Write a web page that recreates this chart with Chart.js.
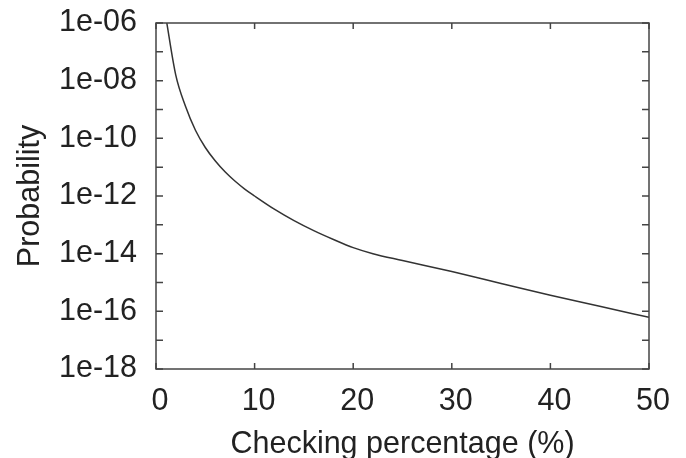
<!DOCTYPE html>
<html>
<head>
<meta charset="utf-8">
<script src="https://cdn.jsdelivr.net/npm/chart.js@4.4.1/dist/chart.umd.min.js"></script>
<style>
  html, body { margin: 0; padding: 0; background: #fff; }
  #wrap { width: 686px; height: 458px; }
</style>
</head>
<body>
<div id="wrap"><canvas id="main-chart" width="686" height="458"></canvas></div>
<script>
// checking percentage (%) and probability
const percent = [1, 2, 3, 4, 5, 6, 7, 8, 9, 10, 12, 14, 16, 18, 20, 22, 25, 30, 35, 40, 45, 50];
const probability = [1.58e-6, 1.58e-8, 1.26e-9, 1.9e-10, 4.8e-11, 1.66e-11, 6.9e-12, 3.3e-12, 1.74e-12, 1e-12,
  3.5e-13, 1.4e-13, 6.3e-14, 3.1e-14, 1.62e-14, 1e-14, 5.8e-15, 2.4e-15, 9.3e-16, 3.6e-16, 1.5e-16, 6.2e-17];

const xTicks = [0, 10, 20, 30, 40, 50];
const yExponents = [-6, -7, -8, -9, -10, -11, -12, -13, -14, -15, -16, -17, -18];
const yTickLabels = ["1e-06", "", "1e-08", "", "1e-10", "", "1e-12", "", "1e-14", "", "1e-16", "", "1e-18"];

const axisColor = "#444";
const textColor = "#222";
const font = { family: "'Liberation Sans', Arial, sans-serif", size: 30.5 };

// gnuplot-like frame with inward ticks (mirrored on top/right)
const framePlugin = {
  id: "frame",
  afterDatasetsDraw(chart) {
    const { ctx, chartArea: a, scales } = chart;
    ctx.save();
    ctx.strokeStyle = axisColor;
    ctx.lineWidth = 1.5;
    ctx.strokeRect(a.left, a.top, a.right - a.left, a.bottom - a.top);
    ctx.beginPath();
    scales.x.ticks.forEach((t) => {
      const px = scales.x.getPixelForValue(t.value);
      ctx.moveTo(px, a.bottom); ctx.lineTo(px, a.bottom - 6);
      ctx.moveTo(px, a.top); ctx.lineTo(px, a.top + 6);
    });
    scales.y.ticks.forEach((t) => {
      const py = scales.y.getPixelForValue(t.value);
      ctx.moveTo(a.left, py); ctx.lineTo(a.left + 7, py);
      ctx.moveTo(a.right, py); ctx.lineTo(a.right - 7, py);
    });
    ctx.stroke();
    ctx.restore();
  },
};

new Chart(document.getElementById("main-chart").getContext("2d"), {
  type: "line",
  data: {
    datasets: [
      {
        data: percent.map((p, i) => ({ x: p, y: probability[i] })),
        borderColor: "#333",
        borderWidth: 1.5,
        pointRadius: 0,
        cubicInterpolationMode: "monotone",
        fill: false,
      },
    ],
  },
  options: {
    responsive: false,
    animation: false,
    events: [],
    layout: { padding: { top: 23, right: 37, left: 0, bottom: 0 } },
    plugins: { legend: { display: false }, tooltip: { enabled: false } },
    scales: {
      x: {
        type: "linear",
        min: 0,
        max: 50,
        afterBuildTicks: (s) => { s.ticks = xTicks.map((v) => ({ value: v })); },
        afterFit: (s) => { s.height = 89; s.paddingLeft = 0; s.paddingRight = 0; },
        grid: { display: false, drawTicks: false },
        border: { display: false },
        ticks: { color: textColor, font: font, padding: 14, maxRotation: 0, labelOffset: 4 },
        title: {
          display: true,
          text: "Checking percentage (%)",
          color: textColor,
          font: { ...font, lineHeight: 0.9 },
          padding: { top: 0, bottom: 0 },
        },
      },
      y: {
        type: "logarithmic",
        min: 1e-18,
        max: 1e-6,
        afterBuildTicks: (s) => { s.ticks = yExponents.map((e) => ({ value: Math.pow(10, e) })); },
        afterFit: (s) => { s.width = 156; s.paddingTop = 0; s.paddingBottom = 0; },
        grid: { display: false, drawTicks: false },
        border: { display: false },
        ticks: {
          color: textColor,
          font: font,
          padding: 19,
          autoSkip: false,
          callback: (v, i) => yTickLabels[i],
        },
        title: { display: true, text: "Probability", color: textColor, font: font, padding: { top: 12, bottom: 4 } },
      },
    },
  },
  plugins: [framePlugin],
});
</script>
</body>
</html>
